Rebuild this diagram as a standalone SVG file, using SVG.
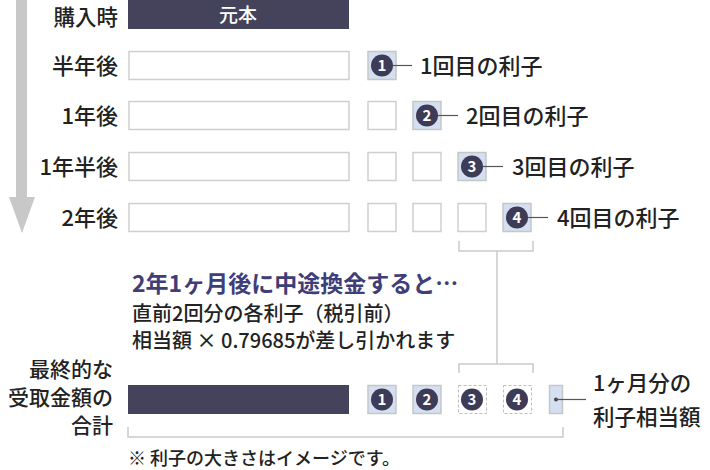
<svg xmlns="http://www.w3.org/2000/svg" width="710" height="470" viewBox="0 0 710 470">
<defs>
<style>
text{font-family:"Noto Sans CJK JP","Noto Sans",sans-serif;fill:#222;font-weight:500}
.lbl{font-size:22px;text-anchor:end}
.int{font-size:22px}
.box{fill:#fff;stroke:#cfcfcf;stroke-width:1.5}
.hl{fill:#d4e0f1;stroke:#c6c6c6;stroke-width:1.5}
.dash{fill:#fff;stroke:#bdbdbd;stroke-width:1;stroke-dasharray:3 2}
.dark{fill:#45435b}
.num{fill:#3d3b55}
.nt{fill:#fff;font-size:15px;font-weight:bold;text-anchor:middle}
.lead{stroke:#555;stroke-width:1.2;fill:none}
.brk{stroke:#cacaca;stroke-width:1.5;fill:none}
</style>
</defs>
<g id="timeline-arrow">
<rect x="16" y="0" width="11" height="198" fill="#c8c8c8"/>
<polygon points="9,197 35,197 22,233" fill="#c8c8c8"/>
</g>
<g id="row-purchase">
<text class="lbl" x="118" y="25" style="font-size:21.5px">購入時</text>
<rect class="dark" x="128" y="0" width="221" height="29"/>
<text x="238" y="22" style="fill:#fff;font-size:19px;text-anchor:middle">元本</text>
</g>
<g id="row-half">
<text class="lbl" x="118" y="73.5">半年後</text>
<rect class="box" x="129" y="51.5" width="220" height="28"/>
<rect class="hl" x="368" y="51.5" width="28" height="28"/>
<circle class="num" cx="382" cy="65.5" r="11"/>
<text class="nt" x="382" y="71">1</text>
</g>
<g id="row-1y">
<text class="lbl" x="118" y="123.5">1年後</text>
<rect class="box" x="129" y="101.5" width="220" height="28"/>
<rect class="box" x="368" y="101.5" width="28" height="28"/>
<rect class="hl" x="413" y="101.5" width="28" height="28"/>
<circle class="num" cx="427" cy="115.5" r="11"/>
<text class="nt" x="427" y="121">2</text>
</g>
<g id="row-1-5y">
<text class="lbl" x="118" y="174.5">1年半後</text>
<rect class="box" x="129" y="152.5" width="220" height="28"/>
<rect class="box" x="368" y="152.5" width="28" height="28"/>
<rect class="box" x="413" y="152.5" width="28" height="28"/>
<rect class="hl" x="458" y="152.5" width="28" height="28"/>
<circle class="num" cx="472" cy="166.5" r="11"/>
<text class="nt" x="472" y="172">3</text>
</g>
<g id="row-2y">
<text class="lbl" x="118" y="225.5">2年後</text>
<rect class="box" x="129" y="203.5" width="220" height="28"/>
<rect class="box" x="368" y="203.5" width="28" height="28"/>
<rect class="box" x="413" y="203.5" width="28" height="28"/>
<rect class="box" x="458" y="203.5" width="28" height="28"/>
<rect class="hl" x="503" y="203.5" width="28" height="28"/>
<circle class="num" cx="517" cy="217.5" r="11"/>
<text class="nt" x="517" y="223">4</text>
</g>
<g id="interest-labels">
<text class="int" x="420" y="73.5">1回目の利子</text>
<text class="int" x="466" y="123.5">2回目の利子</text>
<text class="int" x="512" y="174.5">3回目の利子</text>
<text class="int" x="557" y="225.5">4回目の利子</text>
</g>
<g id="note">
<text x="132" y="291.5" style="font-size:23px;font-weight:bold;fill:#3f3e78">2年1ヶ月後に中途換金すると…</text>
<text x="132" y="320.5" style="font-size:20px">直前2回分の各利子（税引前）</text>
<text x="132" y="347.5" style="font-size:20px">相当額 × 0.79685が差し引かれます</text>
</g>
<g id="row-total">
<text class="lbl" x="113" y="377" style="font-size:21px">最終的な</text>
<text class="lbl" x="113" y="405" style="font-size:21px">受取金額の</text>
<text class="lbl" x="113" y="433" style="font-size:21px">合計</text>
<rect class="dark" x="128" y="385" width="221" height="29"/>
<rect class="hl" x="368" y="385.5" width="28" height="28"/>
<circle class="num" cx="382" cy="399.5" r="11"/>
<text class="nt" x="382" y="405">1</text>
<rect class="hl" x="413" y="385.5" width="28" height="28"/>
<circle class="num" cx="427" cy="399.5" r="11"/>
<text class="nt" x="427" y="405">2</text>
<rect class="dash" x="458.5" y="385.5" width="28" height="28"/>
<circle class="num" cx="472" cy="399.5" r="11"/>
<text class="nt" x="472" y="405">3</text>
<rect class="dash" x="503.5" y="385.5" width="28" height="28"/>
<circle class="num" cx="517" cy="399.5" r="11"/>
<text class="nt" x="517" y="405">4</text>
<rect class="hl" x="549.5" y="385.5" width="13" height="28"/>
<circle cx="556" cy="399.5" r="2" fill="#444"/>
</g>
<g id="month-label">
<text class="int" x="593" y="391" style="font-size:21.5px">1ヶ月分の</text>
<text class="int" x="593" y="425" style="font-size:21.5px">利子相当額</text>
</g>
<g id="footnote">
<text x="128" y="464.5" style="font-size:18px">※ 利子の大きさはイメージです。</text>
</g>
<g id="connectors">
<line class="lead" x1="393" y1="65.5" x2="412" y2="65.5"/>
<line class="lead" x1="438" y1="115.5" x2="458" y2="115.5"/>
<line class="lead" x1="483" y1="166.5" x2="503" y2="166.5"/>
<line class="lead" x1="528" y1="217.5" x2="548" y2="217.5"/>
<line class="lead" x1="556" y1="399.5" x2="586" y2="399.5"/>
<polyline class="brk" points="459,241 459,251 533,251 533,241"/>
<line class="brk" x1="497" y1="251" x2="497" y2="364"/>
<polyline class="brk" points="459,373 459,364 533,364 533,373"/>
<polyline class="brk" points="128,427 128,437 563,437 563,427"/>
</g>
</svg>
